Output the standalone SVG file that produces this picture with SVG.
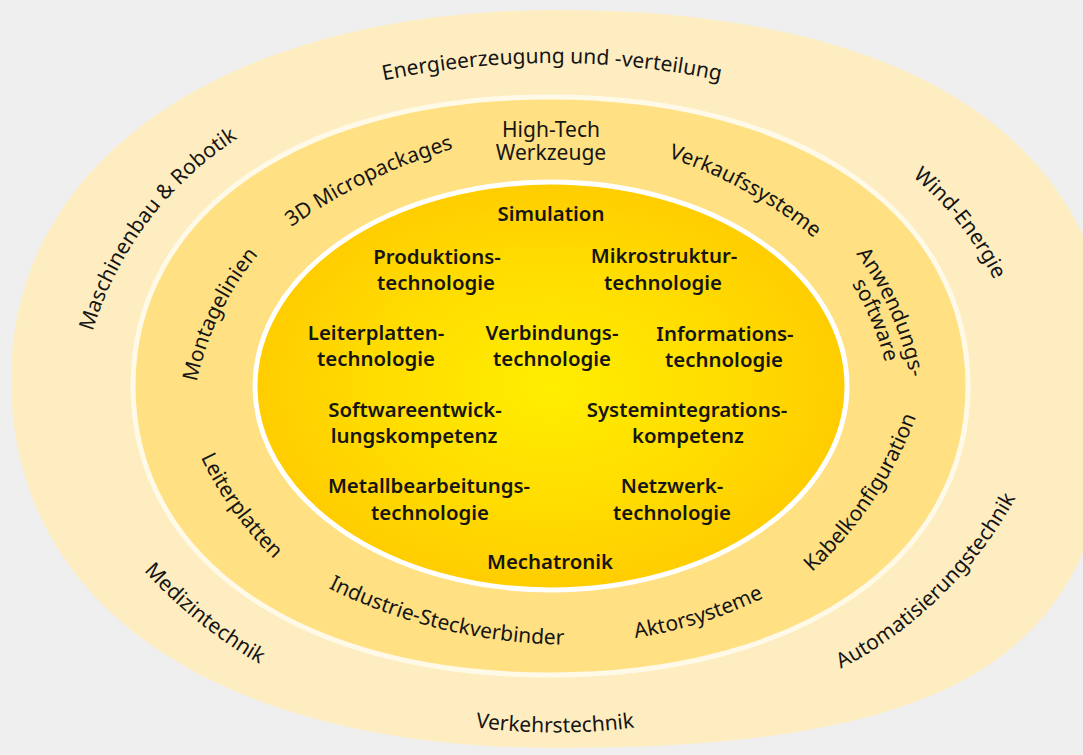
<svg xmlns="http://www.w3.org/2000/svg" width="1083" height="755" viewBox="0 0 1083 755">
<style>
text{font-family:"Noto Sans","Open Sans","DejaVu Sans",sans-serif;font-size:21px;fill:#151515}
.m{text-anchor:middle}
.c{text-anchor:middle;font-weight:600;font-size:20.4px}
</style>
<defs>
<radialGradient id="core" cx="0.5" cy="0.5" r="0.55">
<stop offset="0" stop-color="#ffee00"/>
<stop offset="0.55" stop-color="#ffdc00"/>
<stop offset="1" stop-color="#ffc900"/>
</radialGradient>
<path id="p1" d="M552,1703 A819,819 0 0 1 552,63 A819,819 0 0 1 552,1703"/>
<path id="p2" d="M707.3,642.7 A349,349 0 0 1 148,222 A349,349 0 0 1 707.3,642.7"/>
<path id="p3" d="M472.7,608.8 A309,309 0 0 1 958.8,223.8 A309,309 0 0 1 472.7,608.8"/>
<path id="p4" d="M800.9,-126 A479,479 0 0 0 198,621.8 A479,479 0 0 0 800.9,-126"/>
<path id="p5" d="M555,-547.5 A639,639 0 0 0 555,732.5 A639,639 0 0 0 555,-547.5"/>
<path id="p6" d="M353.8,-4.3 A419,419 0 0 0 941,596.3 A419,419 0 0 0 353.8,-4.3"/>
<path id="p7" d="M848.8,1171.2 A549,549 0 0 1 369.2,181.2 A549,549 0 0 1 848.8,1171.2"/>
<path id="p8" d="M310.3,978.5 A449,449 0 0 1 745,191 A449,449 0 0 1 310.3,978.5"/>
<path id="p9" d="M759.9,575.6 A299,299 0 0 1 219.9,314.6 A299,299 0 0 1 759.9,575.6"/>
<path id="p10" d="M340.6,553.2 A299,299 0 0 1 890.2,312.6 A299,299 0 0 1 340.6,553.2"/>
<path id="p11" d="M355.6,540.2 A279,279 0 0 1 871.4,321.8 A279,279 0 0 1 355.6,540.2"/>
<path id="p12" d="M800.6,102 A349,349 0 0 0 232.9,511.5 A349,349 0 0 0 800.6,102"/>
<path id="p13" d="M698.9,-440.3 A549,549 0 0 0 443,629.5 A549,549 0 0 0 698.9,-440.3"/>
<path id="p14" d="M431,-235 A449,449 0 0 0 701,622.7 A449,449 0 0 0 431,-235"/>
<path id="p15" d="M207.7,56.6 A399,399 0 0 0 873.3,500.6 A399,399 0 0 0 207.7,56.6"/>
</defs>
<rect width="1083" height="755" fill="#efefef"/>
<g id="ring-outer">
<path d="M11,379 C11,157.6 229.8,10 558,10 C913,10 1113,143 1113,379 C1113,652 963,748 558,748 C218.9,748 11,607.8 11,379 Z" fill="#feedc0"/>
</g>
<g id="ring-middle">
<path d="M133,386 C133,212.6 299.8,97 550,97 C800.8,97 968,212.6 968,386 C968,559.4 800.8,675 550,675 C299.8,675 133,559.4 133,386 Z" fill="#ffe083" stroke="#fff9e8" stroke-width="5"/>
</g>
<g id="ring-inner">
<ellipse cx="551" cy="386" rx="296" ry="204" fill="url(#core)" stroke="#ffffff" stroke-width="5"/>
</g>
<g id="outer-labels">
<g id="energie"><text class="m"><textPath href="#p1" startOffset="50%">Energieerzeugung und -verteilung</textPath></text></g>
<g id="maschinenbau"><text class="m"><textPath href="#p2" startOffset="50%">Maschinenbau &amp; Robotik</textPath></text></g>
<g id="wind"><text class="m"><textPath href="#p3" startOffset="50%">Wind-Energie</textPath></text></g>
<g id="medizin"><text class="m"><textPath href="#p4" startOffset="50%">Medizintechnik</textPath></text></g>
<g id="verkehr"><text class="m"><textPath href="#p5" startOffset="50%">Verkehrstechnik</textPath></text></g>
<g id="automatisierung"><text class="m"><textPath href="#p6" startOffset="50%">Automatisierungstechnik</textPath></text></g>
</g>
<g id="middle-labels">
<g id="micropackages"><text class="m"><textPath href="#p7" startOffset="50%">3D Micropackages</textPath></text></g>
<g id="werkzeuge"><text class="m" x="551" y="137">High-Tech<tspan x="551" y="160">Werkzeuge</tspan></text></g>
<g id="verkauf"><text class="m"><textPath href="#p8" startOffset="50%">Verkaufssysteme</textPath></text></g>
<g id="montage"><text class="m"><textPath href="#p9" startOffset="50%">Montagelinien</textPath></text></g>
<g id="anwendung"><text class="m"><textPath href="#p10" startOffset="50%">Anwendungs-</textPath></text><text class="m"><textPath href="#p11" startOffset="50%">software</textPath></text></g>
<g id="leiterplatten"><text class="m"><textPath href="#p12" startOffset="50%">Leiterplatten</textPath></text></g>
<g id="industrie"><text class="m"><textPath href="#p13" startOffset="50%">Industrie-Steckverbinder</textPath></text></g>
<g id="aktor"><text class="m"><textPath href="#p14" startOffset="50%">Aktorsysteme</textPath></text></g>
<g id="kabel"><text class="m"><textPath href="#p15" startOffset="50%">Kabelkonfiguration</textPath></text></g>
</g>
<g id="core-labels">
<g id="simulation"><text class="c" x="551" y="221">Simulation</text></g>
<g id="produktion"><text class="c" x="437" y="264">Produktions-<tspan x="436" y="290">technologie</tspan></text></g>
<g id="mikrostruktur"><text class="c" x="664" y="263">Mikrostruktur-<tspan x="663" y="290">technologie</tspan></text></g>
<g id="leiterplattentech"><text class="c" x="376" y="340">Leiterplatten-<tspan x="376" y="366">technologie</tspan></text></g>
<g id="verbindung"><text class="c" x="552" y="340">Verbindungs-<tspan x="552" y="366">technologie</tspan></text></g>
<g id="information"><text class="c" x="725" y="341">Informations-<tspan x="724" y="367">technologie</tspan></text></g>
<g id="software"><text class="c" x="415" y="417">Softwareentwick-<tspan x="414" y="443">lungskompetenz</tspan></text></g>
<g id="systemintegration"><text class="c" x="687" y="417">Systemintegrations-<tspan x="688" y="443">kompetenz</tspan></text></g>
<g id="metall"><text class="c" x="429" y="493">Metallbearbeitungs-<tspan x="430" y="520">technologie</tspan></text></g>
<g id="netzwerk"><text class="c" x="672" y="493">Netzwerk-<tspan x="672" y="520">technologie</tspan></text></g>
<g id="mechatronik"><text class="c" x="550" y="569">Mechatronik</text></g>
</g>
</svg>
